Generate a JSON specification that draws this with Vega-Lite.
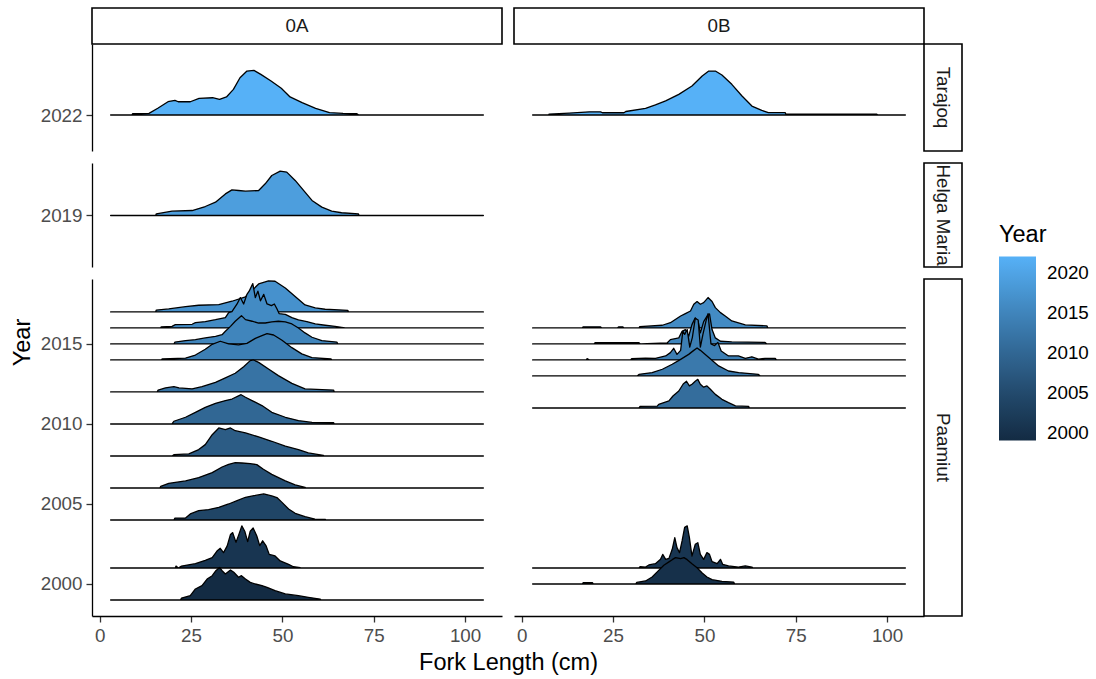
{
"$schema": "https://vega.github.io/schema/vega-lite/v6.json",
"padding": {"left": 10, "top": 7, "right": 5, "bottom": 5},
"config": {
 "font": "Liberation Sans",
 "view": {"stroke": null},
 "axis": {"domainColor": "black", "domainWidth": 1.3, "tickColor": "#333333", "tickWidth": 1.3, "tickSize": 6, "labelFontSize": 18.8, "labelColor": "#4D4D4D", "labelPadding": 4, "titleFontSize": 23.5, "titleFontWeight": "normal", "titleColor": "black", "grid": false},
 "legend": {"gradientLength": 184, "gradientThickness": 37, "titleFontSize": 23.5, "titleFontWeight": "normal", "titleColor": "black", "labelFontSize": 18.8, "labelColor": "black", "titlePadding": 10, "gradientStrokeWidth": 0}
},
"datasets": {
 "t0A": [
  {"yr":2022,"x":3,"y":2022},{"yr":2022,"x":8.8,"y":2022},{"yr":2022,"x":9,"y":2022.08},{"yr":2022,"x":13.5,"y":2022.1},{"yr":2022,"x":15.9,"y":2022.42},{"yr":2022,"x":18.7,"y":2022.83},{"yr":2022,"x":20.6,"y":2022.92},{"yr":2022,"x":21.5,"y":2022.83},{"yr":2022,"x":24.8,"y":2022.83},{"yr":2022,"x":27.2,"y":2023.04},{"yr":2022,"x":30.9,"y":2023.08},{"yr":2022,"x":32.8,"y":2022.98},{"yr":2022,"x":34.7,"y":2023.13},{"yr":2022,"x":36.6,"y":2023.6},{"yr":2022,"x":38.4,"y":2024.33},{"yr":2022,"x":40.3,"y":2024.75},{"yr":2022,"x":42.2,"y":2024.79},{"yr":2022,"x":44.1,"y":2024.54},{"yr":2022,"x":46.9,"y":2024.13},{"yr":2022,"x":49.7,"y":2023.67},{"yr":2022,"x":52.1,"y":2023.13},{"yr":2022,"x":55.4,"y":2022.77},{"yr":2022,"x":59.1,"y":2022.42},{"yr":2022,"x":62.9,"y":2022.15},{"yr":2022,"x":66.6,"y":2022.1},{"yr":2022,"x":70.4,"y":2022.08},{"yr":2022,"x":70.9,"y":2022},{"yr":2022,"x":105,"y":2022}
 ],
 "t0B": [
  {"yr":2022,"x":3,"y":2022},{"yr":2022,"x":7.4,"y":2022},{"yr":2022,"x":7.5,"y":2022.06},{"yr":2022,"x":13,"y":2022.12},{"yr":2022,"x":18.5,"y":2022.2},{"yr":2022,"x":21.6,"y":2022.2},{"yr":2022,"x":22.1,"y":2022.14},{"yr":2022,"x":28,"y":2022.14},{"yr":2022,"x":28.5,"y":2022.22},{"yr":2022,"x":33.9,"y":2022.42},{"yr":2022,"x":36.6,"y":2022.63},{"yr":2022,"x":39.4,"y":2022.88},{"yr":2022,"x":43,"y":2023.29},{"yr":2022,"x":46.6,"y":2023.81},{"yr":2022,"x":49.4,"y":2024.44},{"yr":2022,"x":51.2,"y":2024.75},{"yr":2022,"x":53,"y":2024.75},{"yr":2022,"x":54.8,"y":2024.5},{"yr":2022,"x":57.5,"y":2023.92},{"yr":2022,"x":60.3,"y":2023.19},{"yr":2022,"x":63,"y":2022.56},{"yr":2022,"x":65.7,"y":2022.29},{"yr":2022,"x":67.5,"y":2022.15},{"yr":2022,"x":72.1,"y":2022.15},{"yr":2022,"x":72.3,"y":2022.06},{"yr":2022,"x":97.1,"y":2022.06},{"yr":2022,"x":97.5,"y":2022},{"yr":2022,"x":105,"y":2022}
 ],
 "h0A": [
  {"yr":2019,"x":3,"y":2019},{"yr":2019,"x":15.3,"y":2019},{"yr":2019,"x":15.5,"y":2019.1},{"yr":2019,"x":19.8,"y":2019.27},{"yr":2019,"x":25.3,"y":2019.31},{"yr":2019,"x":28.9,"y":2019.56},{"yr":2019,"x":31.7,"y":2019.83},{"yr":2019,"x":34.4,"y":2020.35},{"yr":2019,"x":36.2,"y":2020.6},{"yr":2019,"x":38,"y":2020.56},{"yr":2019,"x":39.9,"y":2020.52},{"yr":2019,"x":43.5,"y":2020.56},{"yr":2019,"x":45.3,"y":2020.98},{"yr":2019,"x":47.1,"y":2021.5},{"yr":2019,"x":49.4,"y":2021.77},{"yr":2019,"x":51.2,"y":2021.71},{"yr":2019,"x":53.5,"y":2021.19},{"yr":2019,"x":56.2,"y":2020.46},{"yr":2019,"x":58.1,"y":2019.94},{"yr":2019,"x":60.8,"y":2019.52},{"yr":2019,"x":63.5,"y":2019.27},{"yr":2019,"x":66.2,"y":2019.17},{"yr":2019,"x":70.8,"y":2019.1},{"yr":2019,"x":71,"y":2019},{"yr":2019,"x":105,"y":2019}
 ],
 "p0A": [
  {"yr":2017,"x":3,"y":2017},{"yr":2017,"x":15.3,"y":2017},{"yr":2017,"x":15.5,"y":2017.12},{"yr":2017,"x":18.9,"y":2017.19},{"yr":2017,"x":23.5,"y":2017.33},{"yr":2017,"x":27.1,"y":2017.42},{"yr":2017,"x":32.6,"y":2017.46},{"yr":2017,"x":36.2,"y":2017.67},{"yr":2017,"x":39.9,"y":2017.95},{"yr":2017,"x":41.5,"y":2018.3},{"yr":2017,"x":43.5,"y":2018.75},{"yr":2017,"x":46.2,"y":2018.94},{"yr":2017,"x":48,"y":2018.92},{"yr":2017,"x":50.8,"y":2018.5},{"yr":2017,"x":53.5,"y":2017.96},{"yr":2017,"x":56.2,"y":2017.44},{"yr":2017,"x":59,"y":2017.25},{"yr":2017,"x":61.7,"y":2017.17},{"yr":2017,"x":67.9,"y":2017.1},{"yr":2017,"x":68.1,"y":2017},{"yr":2017,"x":105,"y":2017},
  {"yr":2016,"x":3,"y":2016},{"yr":2016,"x":16.7,"y":2016},{"yr":2016,"x":16.8,"y":2016.06},{"yr":2016,"x":19.8,"y":2016.1},{"yr":2016,"x":20.7,"y":2016.21},{"yr":2016,"x":25.3,"y":2016.23},{"yr":2016,"x":26.2,"y":2016.33},{"yr":2016,"x":28.9,"y":2016.4},{"yr":2016,"x":31.7,"y":2016.52},{"yr":2016,"x":34.4,"y":2016.65},{"yr":2016,"x":35.3,"y":2016.96},{"yr":2016,"x":36.2,"y":2017.02},{"yr":2016,"x":37.6,"y":2017.5},{"yr":2016,"x":38.5,"y":2017.9},{"yr":2016,"x":39.4,"y":2017.5},{"yr":2016,"x":40.3,"y":2018.1},{"yr":2016,"x":40.9,"y":2018.3},{"yr":2016,"x":41.9,"y":2018.77},{"yr":2016,"x":42.6,"y":2017.9},{"yr":2016,"x":43.3,"y":2018.3},{"yr":2016,"x":44,"y":2017.7},{"yr":2016,"x":44.9,"y":2018.1},{"yr":2016,"x":45.8,"y":2017.5},{"yr":2016,"x":47,"y":2017.4},{"yr":2016,"x":47.8,"y":2017.5},{"yr":2016,"x":48.5,"y":2017.2},{"yr":2016,"x":49.1,"y":2016.9},{"yr":2016,"x":50.8,"y":2016.85},{"yr":2016,"x":52.6,"y":2016.65},{"yr":2016,"x":54.4,"y":2016.5},{"yr":2016,"x":56.7,"y":2016.4},{"yr":2016,"x":59,"y":2016.25},{"yr":2016,"x":61.7,"y":2016.17},{"yr":2016,"x":64.4,"y":2016.1},{"yr":2016,"x":66.2,"y":2016.04},{"yr":2016,"x":67.2,"y":2016},{"yr":2016,"x":105,"y":2016},
  {"yr":2015,"x":3,"y":2015},{"yr":2015,"x":20.3,"y":2015},{"yr":2015,"x":20.6,"y":2015.12},{"yr":2015,"x":23.5,"y":2015.21},{"yr":2015,"x":26.2,"y":2015.27},{"yr":2015,"x":28.9,"y":2015.38},{"yr":2015,"x":31.7,"y":2015.48},{"yr":2015,"x":33.5,"y":2015.58},{"yr":2015,"x":34.4,"y":2015.79},{"yr":2015,"x":35.8,"y":2016.1},{"yr":2015,"x":37.1,"y":2016.42},{"yr":2015,"x":38.8,"y":2016.77},{"yr":2015,"x":39.9,"y":2016.52},{"yr":2015,"x":41.7,"y":2016.42},{"yr":2015,"x":43.5,"y":2016.31},{"yr":2015,"x":45.3,"y":2016.31},{"yr":2015,"x":47.1,"y":2016.38},{"yr":2015,"x":48.9,"y":2016.42},{"yr":2015,"x":50.8,"y":2016.38},{"yr":2015,"x":52.6,"y":2016.25},{"yr":2015,"x":54.4,"y":2016},{"yr":2015,"x":56.2,"y":2015.69},{"yr":2015,"x":58.1,"y":2015.42},{"yr":2015,"x":60.8,"y":2015.21},{"yr":2015,"x":64.9,"y":2015.12},{"yr":2015,"x":65.2,"y":2015},{"yr":2015,"x":105,"y":2015},
  {"yr":2014,"x":3,"y":2014},{"yr":2014,"x":16.9,"y":2014},{"yr":2014,"x":17.1,"y":2014.06},{"yr":2014,"x":23.5,"y":2014.12},{"yr":2014,"x":26.2,"y":2014.31},{"yr":2014,"x":28.9,"y":2014.67},{"yr":2014,"x":30.8,"y":2014.98},{"yr":2014,"x":33,"y":2015.17},{"yr":2014,"x":35.3,"y":2015},{"yr":2014,"x":38,"y":2014.94},{"yr":2014,"x":40.3,"y":2015.04},{"yr":2014,"x":42.6,"y":2015.35},{"yr":2014,"x":44.4,"y":2015.52},{"yr":2014,"x":45.8,"y":2015.65},{"yr":2014,"x":47.6,"y":2015.56},{"yr":2014,"x":49.9,"y":2015.23},{"yr":2014,"x":52.6,"y":2014.77},{"yr":2014,"x":55.3,"y":2014.38},{"yr":2014,"x":58.1,"y":2014.15},{"yr":2014,"x":63.3,"y":2014.06},{"yr":2014,"x":63.5,"y":2014},{"yr":2014,"x":105,"y":2014},
  {"yr":2012,"x":3,"y":2012},{"yr":2012,"x":15.7,"y":2012},{"yr":2012,"x":16,"y":2012.12},{"yr":2012,"x":18,"y":2012.25},{"yr":2012,"x":20.3,"y":2012.33},{"yr":2012,"x":21.7,"y":2012.25},{"yr":2012,"x":25.3,"y":2012.19},{"yr":2012,"x":28,"y":2012.33},{"yr":2012,"x":31.7,"y":2012.6},{"yr":2012,"x":34.4,"y":2012.88},{"yr":2012,"x":37.1,"y":2013.17},{"yr":2012,"x":39.4,"y":2013.58},{"yr":2012,"x":41.2,"y":2013.96},{"yr":2012,"x":42.1,"y":2014},{"yr":2012,"x":43.5,"y":2013.85},{"yr":2012,"x":46.2,"y":2013.44},{"yr":2012,"x":48.9,"y":2013.02},{"yr":2012,"x":52.6,"y":2012.54},{"yr":2012,"x":56.2,"y":2012.19},{"yr":2012,"x":64,"y":2012.12},{"yr":2012,"x":64.2,"y":2012},{"yr":2012,"x":105,"y":2012},
  {"yr":2010,"x":3,"y":2010},{"yr":2010,"x":19.8,"y":2010},{"yr":2010,"x":20.3,"y":2010.17},{"yr":2010,"x":23.5,"y":2010.42},{"yr":2010,"x":26.2,"y":2010.73},{"yr":2010,"x":28.9,"y":2011.04},{"yr":2010,"x":31.7,"y":2011.29},{"yr":2010,"x":34.4,"y":2011.46},{"yr":2010,"x":36.2,"y":2011.56},{"yr":2010,"x":38.7,"y":2011.83},{"yr":2010,"x":39.9,"y":2011.67},{"yr":2010,"x":41.7,"y":2011.46},{"yr":2010,"x":44.4,"y":2011.15},{"yr":2010,"x":47.1,"y":2010.73},{"yr":2010,"x":50.8,"y":2010.42},{"yr":2010,"x":54.4,"y":2010.21},{"yr":2010,"x":58.1,"y":2010.1},{"yr":2010,"x":64,"y":2010.08},{"yr":2010,"x":64.2,"y":2010},{"yr":2010,"x":105,"y":2010},
  {"yr":2008,"x":3,"y":2008},{"yr":2008,"x":19.8,"y":2008},{"yr":2008,"x":20.3,"y":2008.08},{"yr":2008,"x":24.4,"y":2008.13},{"yr":2008,"x":27.1,"y":2008.4},{"yr":2008,"x":28.9,"y":2008.71},{"yr":2008,"x":30.8,"y":2009.33},{"yr":2008,"x":32.6,"y":2009.75},{"yr":2008,"x":34.4,"y":2009.65},{"yr":2008,"x":35.8,"y":2009.75},{"yr":2008,"x":37.1,"y":2009.58},{"yr":2008,"x":39.9,"y":2009.44},{"yr":2008,"x":43.5,"y":2009.19},{"yr":2008,"x":47.1,"y":2008.92},{"yr":2008,"x":50.8,"y":2008.61},{"yr":2008,"x":54.4,"y":2008.4},{"yr":2008,"x":57.1,"y":2008.19},{"yr":2008,"x":61.2,"y":2008.04},{"yr":2008,"x":61.4,"y":2008},{"yr":2008,"x":105,"y":2008},
  {"yr":2006,"x":3,"y":2006},{"yr":2006,"x":16.5,"y":2006},{"yr":2006,"x":16.7,"y":2006.1},{"yr":2006,"x":18.9,"y":2006.29},{"yr":2006,"x":23.5,"y":2006.44},{"yr":2006,"x":27.1,"y":2006.65},{"yr":2006,"x":30.8,"y":2006.96},{"yr":2006,"x":33.5,"y":2007.31},{"yr":2006,"x":35.3,"y":2007.48},{"yr":2006,"x":37.1,"y":2007.58},{"yr":2006,"x":38.9,"y":2007.56},{"yr":2006,"x":41.2,"y":2007.52},{"yr":2006,"x":43,"y":2007.46},{"yr":2006,"x":44.8,"y":2007.17},{"yr":2006,"x":47.1,"y":2006.85},{"yr":2006,"x":50.8,"y":2006.44},{"yr":2006,"x":53.5,"y":2006.19},{"yr":2006,"x":56.2,"y":2006.04},{"yr":2006,"x":56.4,"y":2006},{"yr":2006,"x":105,"y":2006},
  {"yr":2004,"x":3,"y":2004},{"yr":2004,"x":20.3,"y":2004},{"yr":2004,"x":20.6,"y":2004.12},{"yr":2004,"x":23.5,"y":2004.12},{"yr":2004,"x":24.8,"y":2004.38},{"yr":2004,"x":27.1,"y":2004.58},{"yr":2004,"x":29.8,"y":2004.65},{"yr":2004,"x":32.6,"y":2004.79},{"yr":2004,"x":35.3,"y":2005},{"yr":2004,"x":37.6,"y":2005.21},{"yr":2004,"x":39.9,"y":2005.42},{"yr":2004,"x":42.2,"y":2005.52},{"yr":2004,"x":44.9,"y":2005.63},{"yr":2004,"x":47.1,"y":2005.5},{"yr":2004,"x":48.5,"y":2005.4},{"yr":2004,"x":49.9,"y":2005.1},{"yr":2004,"x":51.7,"y":2004.69},{"yr":2004,"x":53.5,"y":2004.42},{"yr":2004,"x":56.2,"y":2004.21},{"yr":2004,"x":58.9,"y":2004.06},{"yr":2004,"x":61.7,"y":2004.04},{"yr":2004,"x":61.9,"y":2004},{"yr":2004,"x":105,"y":2004},
  {"yr":2001,"x":3,"y":2001},{"yr":2001,"x":20.7,"y":2001},{"yr":2001,"x":20.9,"y":2001.12},{"yr":2001,"x":21.5,"y":2001},{"yr":2001,"x":22.4,"y":2001.12},{"yr":2001,"x":26.2,"y":2001.27},{"yr":2001,"x":28.9,"y":2001.48},{"yr":2001,"x":30.8,"y":2001.65},{"yr":2001,"x":32.1,"y":2002.06},{"yr":2001,"x":33,"y":2002.23},{"yr":2001,"x":33.9,"y":2001.96},{"yr":2001,"x":34.9,"y":2002.38},{"yr":2001,"x":35.8,"y":2003.1},{"yr":2001,"x":36.4,"y":2003.21},{"yr":2001,"x":37.3,"y":2002.6},{"yr":2001,"x":38.1,"y":2003.1},{"yr":2001,"x":38.9,"y":2003.63},{"yr":2001,"x":39.7,"y":2003.3},{"yr":2001,"x":40.5,"y":2002.65},{"yr":2001,"x":41.2,"y":2003.3},{"yr":2001,"x":42,"y":2003.5},{"yr":2001,"x":43,"y":2003},{"yr":2001,"x":43.8,"y":2002.4},{"yr":2001,"x":44.6,"y":2002.7},{"yr":2001,"x":45.5,"y":2002.4},{"yr":2001,"x":46.4,"y":2001.85},{"yr":2001,"x":48,"y":2001.75},{"yr":2001,"x":49.4,"y":2001.44},{"yr":2001,"x":51.7,"y":2001.23},{"yr":2001,"x":53,"y":2001.08},{"yr":2001,"x":54.9,"y":2001.02},{"yr":2001,"x":55,"y":2001},{"yr":2001,"x":105,"y":2001},
  {"yr":1999,"x":3,"y":1999},{"yr":1999,"x":22.1,"y":1999},{"yr":1999,"x":22.4,"y":1999.12},{"yr":1999,"x":24.8,"y":1999.27},{"yr":1999,"x":26.2,"y":1999.69},{"yr":1999,"x":28,"y":1999.9},{"yr":1999,"x":29.4,"y":2000.31},{"yr":1999,"x":30.8,"y":2000.52},{"yr":1999,"x":31.8,"y":2000.83},{"yr":1999,"x":32.8,"y":2001.04},{"yr":1999,"x":33.5,"y":2000.83},{"yr":1999,"x":34.4,"y":2000.63},{"yr":1999,"x":35.8,"y":2000.88},{"yr":1999,"x":36.7,"y":2000.73},{"yr":1999,"x":38,"y":2000.42},{"yr":1999,"x":38.8,"y":2000.52},{"yr":1999,"x":39.9,"y":2000.31},{"yr":1999,"x":41.2,"y":2000.1},{"yr":1999,"x":42.6,"y":2000},{"yr":1999,"x":44.4,"y":1999.9},{"yr":1999,"x":45.8,"y":1999.79},{"yr":1999,"x":48,"y":1999.58},{"yr":1999,"x":50.8,"y":1999.38},{"yr":1999,"x":54.4,"y":1999.27},{"yr":1999,"x":57.1,"y":1999.17},{"yr":1999,"x":60.3,"y":1999.06},{"yr":1999,"x":60.6,"y":1999},{"yr":1999,"x":105,"y":1999}
 ],
 "p0B": [
  {"yr":2016,"x":3,"y":2016},{"yr":2016,"x":16.6,"y":2016},{"yr":2016,"x":16.8,"y":2016.07},{"yr":2016,"x":21.6,"y":2016.07},{"yr":2016,"x":21.9,"y":2016},{"yr":2016,"x":26.2,"y":2016},{"yr":2016,"x":26.5,"y":2016.07},{"yr":2016,"x":27.7,"y":2016.07},{"yr":2016,"x":28,"y":2016},{"yr":2016,"x":32.1,"y":2016},{"yr":2016,"x":32.3,"y":2016.08},{"yr":2016,"x":38.5,"y":2016.17},{"yr":2016,"x":40.7,"y":2016.33},{"yr":2016,"x":43.5,"y":2016.75},{"yr":2016,"x":44.8,"y":2016.9},{"yr":2016,"x":46.2,"y":2017.06},{"yr":2016,"x":47.1,"y":2017.48},{"yr":2016,"x":48,"y":2017.65},{"yr":2016,"x":48.9,"y":2017.48},{"yr":2016,"x":49.8,"y":2017.58},{"yr":2016,"x":51,"y":2017.9},{"yr":2016,"x":52.1,"y":2017.65},{"yr":2016,"x":53,"y":2017.27},{"yr":2016,"x":54.4,"y":2016.96},{"yr":2016,"x":55.7,"y":2016.75},{"yr":2016,"x":57.5,"y":2016.44},{"yr":2016,"x":61.2,"y":2016.19},{"yr":2016,"x":67.1,"y":2016.13},{"yr":2016,"x":67.4,"y":2016},{"yr":2016,"x":105,"y":2016},
  {"yr":2015,"x":3,"y":2015},{"yr":2015,"x":19.8,"y":2015},{"yr":2015,"x":20.1,"y":2015.08},{"yr":2015,"x":32.1,"y":2015.08},{"yr":2015,"x":32.5,"y":2015},{"yr":2015,"x":39.8,"y":2015.06},{"yr":2015,"x":40.7,"y":2015.27},{"yr":2015,"x":43,"y":2015.38},{"yr":2015,"x":43.9,"y":2015.79},{"yr":2015,"x":44.8,"y":2015.9},{"yr":2015,"x":45.7,"y":2015.48},{"yr":2015,"x":46.6,"y":2016.21},{"yr":2015,"x":47.5,"y":2016.63},{"yr":2015,"x":48.3,"y":2016.4},{"yr":2015,"x":48.9,"y":2015.69},{"yr":2015,"x":49.8,"y":2016.4},{"yr":2015,"x":50.7,"y":2016.73},{"yr":2015,"x":51.4,"y":2016.88},{"yr":2015,"x":52.1,"y":2015.9},{"yr":2015,"x":53,"y":2015.38},{"yr":2015,"x":54.4,"y":2015.17},{"yr":2015,"x":57.5,"y":2015.13},{"yr":2015,"x":66.6,"y":2015.1},{"yr":2015,"x":67.1,"y":2015},{"yr":2015,"x":105,"y":2015},
  {"yr":2014,"x":3,"y":2014},{"yr":2014,"x":17.7,"y":2014},{"yr":2014,"x":17.9,"y":2014.08},{"yr":2014,"x":18.6,"y":2014},{"yr":2014,"x":29.8,"y":2014},{"yr":2014,"x":30.1,"y":2014.08},{"yr":2014,"x":33.9,"y":2014.12},{"yr":2014,"x":36.6,"y":2014.1},{"yr":2014,"x":39.4,"y":2014.25},{"yr":2014,"x":40.7,"y":2014.46},{"yr":2014,"x":41.6,"y":2014.73},{"yr":2014,"x":42.5,"y":2014.35},{"yr":2014,"x":43.5,"y":2014.6},{"yr":2014,"x":44.1,"y":2015.8},{"yr":2014,"x":44.6,"y":2015.6},{"yr":2014,"x":45.3,"y":2015.9},{"yr":2014,"x":46,"y":2014.8},{"yr":2014,"x":46.7,"y":2015.4},{"yr":2014,"x":47.5,"y":2016.6},{"yr":2014,"x":48.3,"y":2016.5},{"yr":2014,"x":48.9,"y":2014.8},{"yr":2014,"x":49.6,"y":2015.6},{"yr":2014,"x":50.4,"y":2016.4},{"yr":2014,"x":51,"y":2016.9},{"yr":2014,"x":51.8,"y":2015},{"yr":2014,"x":52.8,"y":2014.9},{"yr":2014,"x":53.7,"y":2015.1},{"yr":2014,"x":54.6,"y":2014.56},{"yr":2014,"x":56.6,"y":2014.25},{"yr":2014,"x":59.3,"y":2014.25},{"yr":2014,"x":61.2,"y":2014.1},{"yr":2014,"x":63,"y":2014.2},{"yr":2014,"x":64.8,"y":2014.05},{"yr":2014,"x":66.6,"y":2014.1},{"yr":2014,"x":69.4,"y":2014.1},{"yr":2014,"x":69.7,"y":2014},{"yr":2014,"x":105,"y":2014},
  {"yr":2013,"x":3,"y":2013},{"yr":2013,"x":31.6,"y":2013},{"yr":2013,"x":32.1,"y":2013.1},{"yr":2013,"x":35.7,"y":2013.21},{"yr":2013,"x":38.5,"y":2013.42},{"yr":2013,"x":41.2,"y":2013.73},{"yr":2013,"x":43.5,"y":2014.04},{"yr":2013,"x":45.7,"y":2014.35},{"yr":2013,"x":47.1,"y":2014.6},{"yr":2013,"x":48,"y":2014.75},{"yr":2013,"x":48.9,"y":2014.6},{"yr":2013,"x":51.2,"y":2014.15},{"yr":2013,"x":53.9,"y":2013.63},{"yr":2013,"x":56.6,"y":2013.31},{"yr":2013,"x":59.4,"y":2013.21},{"yr":2013,"x":64.8,"y":2013.1},{"yr":2013,"x":65.3,"y":2013},{"yr":2013,"x":105,"y":2013},
  {"yr":2011,"x":3,"y":2011},{"yr":2011,"x":32.1,"y":2011},{"yr":2011,"x":32.4,"y":2011.1},{"yr":2011,"x":37.1,"y":2011.12},{"yr":2011,"x":37.5,"y":2011.23},{"yr":2011,"x":40.3,"y":2011.44},{"yr":2011,"x":41.4,"y":2011.75},{"yr":2011,"x":43,"y":2012.06},{"yr":2011,"x":44.2,"y":2012.5},{"yr":2011,"x":45.1,"y":2012.67},{"yr":2011,"x":45.9,"y":2012.38},{"yr":2011,"x":46.7,"y":2012.5},{"yr":2011,"x":47.5,"y":2012.67},{"yr":2011,"x":48.2,"y":2012.79},{"yr":2011,"x":48.9,"y":2012.48},{"yr":2011,"x":49.8,"y":2012.3},{"yr":2011,"x":50.7,"y":2012.38},{"yr":2011,"x":51.7,"y":2012.15},{"yr":2011,"x":53,"y":2011.85},{"yr":2011,"x":54.8,"y":2011.54},{"yr":2011,"x":56.6,"y":2011.33},{"yr":2011,"x":58.5,"y":2011.13},{"yr":2011,"x":62.1,"y":2011.1},{"yr":2011,"x":62.3,"y":2011},{"yr":2011,"x":105,"y":2011},
  {"yr":2001,"x":3,"y":2001},{"yr":2001,"x":32.1,"y":2001},{"yr":2001,"x":32.4,"y":2001.08},{"yr":2001,"x":33.9,"y":2001.06},{"yr":2001,"x":34.8,"y":2001.19},{"yr":2001,"x":36.6,"y":2001.27},{"yr":2001,"x":38,"y":2001.54},{"yr":2001,"x":38.6,"y":2001.85},{"yr":2001,"x":39.4,"y":2001.54},{"yr":2001,"x":40.3,"y":2001.6},{"yr":2001,"x":41.2,"y":2002.17},{"yr":2001,"x":41.9,"y":2002.9},{"yr":2001,"x":42.5,"y":2002.27},{"yr":2001,"x":43.2,"y":2001.96},{"yr":2001,"x":43.9,"y":2002.69},{"yr":2001,"x":44.6,"y":2003.54},{"yr":2001,"x":45.3,"y":2003.63},{"yr":2001,"x":45.9,"y":2002.9},{"yr":2001,"x":46.6,"y":2001.75},{"yr":2001,"x":47.5,"y":2002.48},{"yr":2001,"x":48.2,"y":2002.58},{"yr":2001,"x":48.9,"y":2001.85},{"yr":2001,"x":49.8,"y":2001.54},{"yr":2001,"x":50.7,"y":2001.96},{"yr":2001,"x":51.4,"y":2001.85},{"yr":2001,"x":52.1,"y":2001.4},{"yr":2001,"x":53.5,"y":2001.27},{"yr":2001,"x":54.4,"y":2001.54},{"yr":2001,"x":55,"y":2001.23},{"yr":2001,"x":56.6,"y":2001.13},{"yr":2001,"x":59.3,"y":2001.06},{"yr":2001,"x":61.2,"y":2001.13},{"yr":2001,"x":63,"y":2001.06},{"yr":2001,"x":63.3,"y":2001},{"yr":2001,"x":105,"y":2001},
  {"yr":2000,"x":3,"y":2000},{"yr":2000,"x":16.6,"y":2000},{"yr":2000,"x":16.8,"y":2000.08},{"yr":2000,"x":19.4,"y":2000.08},{"yr":2000,"x":19.6,"y":2000},{"yr":2000,"x":31.2,"y":2000},{"yr":2000,"x":31.5,"y":2000.1},{"yr":2000,"x":33.9,"y":2000.19},{"yr":2000,"x":35.7,"y":2000.44},{"yr":2000,"x":37.5,"y":2000.85},{"yr":2000,"x":38.9,"y":2001.17},{"yr":2000,"x":40.3,"y":2001.38},{"yr":2000,"x":41.2,"y":2001.52},{"yr":2000,"x":42.1,"y":2001.65},{"yr":2000,"x":43.5,"y":2001.58},{"yr":2000,"x":44.4,"y":2001.65},{"yr":2000,"x":45.3,"y":2001.52},{"yr":2000,"x":46.6,"y":2001.27},{"yr":2000,"x":48,"y":2001.02},{"yr":2000,"x":49.4,"y":2000.69},{"yr":2000,"x":50.7,"y":2000.44},{"yr":2000,"x":52.1,"y":2000.27},{"yr":2000,"x":54.8,"y":2000.17},{"yr":2000,"x":58,"y":2000.12},{"yr":2000,"x":58.3,"y":2000},{"yr":2000,"x":105,"y":2000}
 ]
},
"columns": 4,
"align": "each",
"bounds": "flush",
"spacing": 0,
"resolve": {"scale": {"color": "shared"}},
"concat": [
 {"width": 410, "height": 36, "view": {"stroke": "black", "strokeWidth": 1.6, "fill": "white"}, "data": {"values": [{"t": "0A"}]}, "mark": {"type": "text", "fontSize": 18.8, "color": "#1A1A1A"}, "encoding": {"text": {"field": "t"}}},
 {"width": 12, "height": 1, "data": {"values": []}, "mark": "point"},
 {"width": 410, "height": 36, "view": {"stroke": "black", "strokeWidth": 1.6, "fill": "white"}, "data": {"values": [{"t": "0B"}]}, "mark": {"type": "text", "fontSize": 18.8, "color": "#1A1A1A"}, "encoding": {"text": {"field": "t"}}},
 {"width": 1, "height": 1, "data": {"values": []}, "mark": "point"},

 {"width": 410, "height": 107, "data": {"name": "t0A"},
  "mark": {"type": "area", "stroke": "black", "strokeWidth": 1.3, "strokeJoin": "round"},
  "encoding": {
   "x": {"field": "x", "type": "quantitative", "scale": {"domain": [-2.1, 110.1], "nice": false, "zero": false}, "axis": null},
   "y": {"field": "y", "type": "quantitative", "stack": null, "scale": {"domain": [2019.75, 2026.44], "nice": false, "zero": false}, "axis": {"values": [2022], "format": "d", "title": null}},
   "y2": {"field": "yr"},
   "color": {"field": "yr", "type": "quantitative", "scale": {"domain": [1999, 2022], "range": ["#132B43", "#56B1F7"], "interpolate": "lab"}, "legend": {"orient": "none", "legendX": 907, "legendY": 215, "direction": "vertical", "values": [2000, 2005, 2010, 2015, 2020], "format": "d", "title": "Year", "labelOffset": 11}},
   "detail": {"field": "yr", "type": "quantitative"}
  }},
 {"width": 1, "height": 1, "data": {"values": []}, "mark": "point"},
 {"width": 410, "height": 107, "data": {"name": "t0B"},
  "mark": {"type": "area", "stroke": "black", "strokeWidth": 1.3, "strokeJoin": "round"},
  "encoding": {
   "x": {"field": "x", "type": "quantitative", "scale": {"domain": [-2.1, 110.1], "nice": false, "zero": false}, "axis": null},
   "y": {"field": "y", "type": "quantitative", "stack": null, "scale": {"domain": [2019.75, 2026.44], "nice": false, "zero": false}, "axis": null},
   "y2": {"field": "yr"},
   "color": {"field": "yr", "type": "quantitative", "scale": {"domain": [1999, 2022], "range": ["#132B43", "#56B1F7"], "interpolate": "lab"}, "legend": {"orient": "none", "legendX": 907, "legendY": 215, "direction": "vertical", "values": [2000, 2005, 2010, 2015, 2020], "format": "d", "title": "Year", "labelOffset": 11}},
   "detail": {"field": "yr", "type": "quantitative"}
  }},
 {"width": 38, "height": 107, "view": {"stroke": "black", "strokeWidth": 1.6, "fill": "white"}, "data": {"values": [{"t": "Tarajoq"}]}, "mark": {"type": "text", "fontSize": 18.8, "angle": 90, "color": "#1A1A1A"}, "encoding": {"text": {"field": "t"}}},

 {"width": 1, "height": 12, "data": {"values": []}, "mark": "point"},
 {"width": 1, "height": 1, "data": {"values": []}, "mark": "point"},
 {"width": 1, "height": 1, "data": {"values": []}, "mark": "point"},
 {"width": 1, "height": 1, "data": {"values": []}, "mark": "point"},

 {"width": 410, "height": 104, "data": {"name": "h0A"},
  "mark": {"type": "area", "stroke": "black", "strokeWidth": 1.3, "strokeJoin": "round"},
  "encoding": {
   "x": {"field": "x", "type": "quantitative", "scale": {"domain": [-2.1, 110.1], "nice": false, "zero": false}, "axis": null},
   "y": {"field": "y", "type": "quantitative", "stack": null, "scale": {"domain": [2015.78, 2022.28], "nice": false, "zero": false}, "axis": {"values": [2019], "format": "d", "title": null}},
   "y2": {"field": "yr"},
   "color": {"field": "yr", "type": "quantitative", "scale": {"domain": [1999, 2022], "range": ["#132B43", "#56B1F7"], "interpolate": "lab"}, "legend": {"orient": "none", "legendX": 907, "legendY": 215, "direction": "vertical", "values": [2000, 2005, 2010, 2015, 2020], "format": "d", "title": "Year", "labelOffset": 11}},
   "detail": {"field": "yr", "type": "quantitative"}
  }},
 {"width": 1, "height": 1, "data": {"values": []}, "mark": "point"},
 {"width": 1, "height": 1, "data": {"values": []}, "mark": "point"},
 {"width": 38, "height": 104, "view": {"stroke": "black", "strokeWidth": 1.6, "fill": "white"}, "data": {"values": [{"t": "Helga Maria"}]}, "mark": {"type": "text", "fontSize": 18.8, "angle": 90, "color": "#1A1A1A"}, "encoding": {"text": {"field": "t"}}},

 {"width": 1, "height": 12, "data": {"values": []}, "mark": "point"},
 {"width": 1, "height": 1, "data": {"values": []}, "mark": "point"},
 {"width": 1, "height": 1, "data": {"values": []}, "mark": "point"},
 {"width": 1, "height": 1, "data": {"values": []}, "mark": "point"},

 {"width": 410, "height": 337, "data": {"name": "p0A"},
  "mark": {"type": "area", "stroke": "black", "strokeWidth": 1.3, "strokeJoin": "round"},
  "encoding": {
   "x": {"field": "x", "type": "quantitative", "scale": {"domain": [-2.1, 110.1], "nice": false, "zero": false}, "axis": {"values": [0, 25, 50, 75, 100], "title": "Fork Length (cm)", "titleX": 416, "titlePadding": 6}},
   "y": {"field": "y", "type": "quantitative", "stack": null, "scale": {"domain": [1998, 2019.06], "nice": false, "zero": false}, "axis": {"values": [2000, 2005, 2010, 2015], "format": "d", "title": "Year", "titleY": 63, "titlePadding": 6}},
   "y2": {"field": "yr"},
   "color": {"field": "yr", "type": "quantitative", "scale": {"domain": [1999, 2022], "range": ["#132B43", "#56B1F7"], "interpolate": "lab"}, "legend": {"orient": "none", "legendX": 907, "legendY": 215, "direction": "vertical", "values": [2000, 2005, 2010, 2015, 2020], "format": "d", "title": "Year", "labelOffset": 11}},
   "detail": {"field": "yr", "type": "quantitative"}
  }},
 {"width": 1, "height": 1, "data": {"values": []}, "mark": "point"},
 {"width": 410, "height": 337, "data": {"name": "p0B"},
  "mark": {"type": "area", "stroke": "black", "strokeWidth": 1.3, "strokeJoin": "round"},
  "encoding": {
   "x": {"field": "x", "type": "quantitative", "scale": {"domain": [-2.1, 110.1], "nice": false, "zero": false}, "axis": {"values": [0, 25, 50, 75, 100], "title": null}},
   "y": {"field": "y", "type": "quantitative", "stack": null, "scale": {"domain": [1998, 2019.06], "nice": false, "zero": false}, "axis": null},
   "y2": {"field": "yr"},
   "color": {"field": "yr", "type": "quantitative", "scale": {"domain": [1999, 2022], "range": ["#132B43", "#56B1F7"], "interpolate": "lab"}, "legend": {"orient": "none", "legendX": 907, "legendY": 215, "direction": "vertical", "values": [2000, 2005, 2010, 2015, 2020], "format": "d", "title": "Year", "labelOffset": 11}},
   "detail": {"field": "yr", "type": "quantitative"}
  }},
 {"width": 38, "height": 337, "view": {"stroke": "black", "strokeWidth": 1.6, "fill": "white"}, "data": {"values": [{"t": "Paamiut"}]}, "mark": {"type": "text", "fontSize": 18.8, "angle": 90, "color": "#1A1A1A"}, "encoding": {"text": {"field": "t"}}}
]
}
